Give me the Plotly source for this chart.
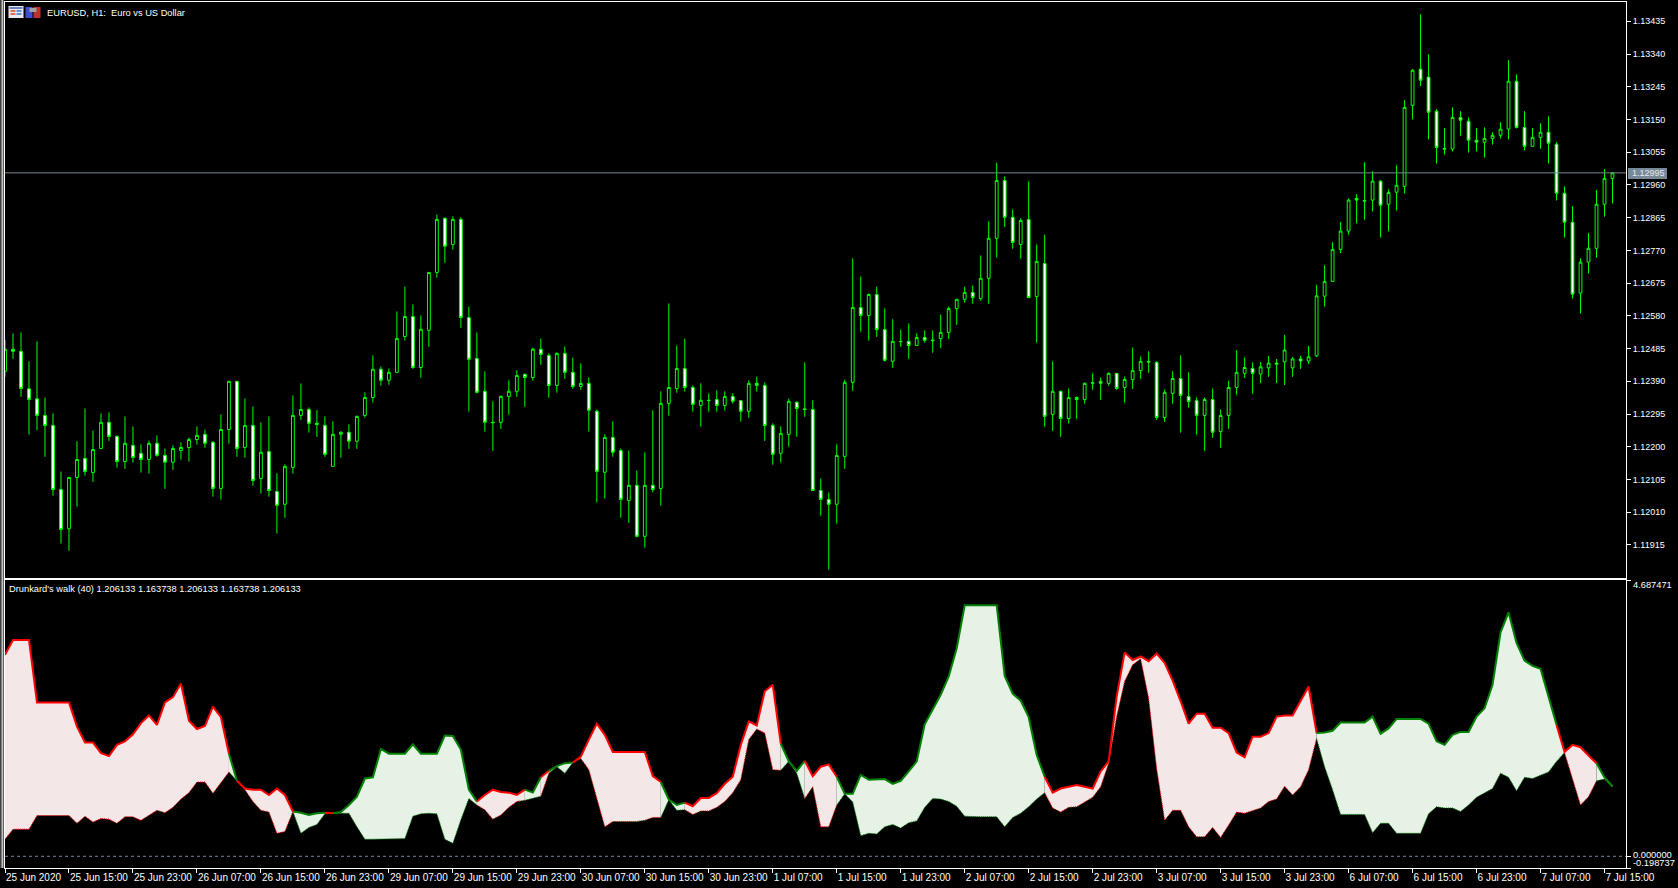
"""EURUSD H1 candles with the Drunkard's walk (40) indicator below, MT5 look."""

import plotly.graph_objects as go

FIG_W = 1678
FIG_H = 888
LEFT = 4.5
RIGHT = 1626
TOP = 2
MAIN_BOTTOM = 578
SUB_TOP = 580
SUB_BOTTOM = 868
BAR_PX = 8

FONT = 'Liberation Sans, sans-serif'
CANDLE = '#00ff00'
SLATE = '#778899'
RED = '#ff0000'
GREEN = '#008000'
RED_FILL = '#f3e7e7'
GREEN_FILL = '#e6f2e6'

opens = [
    1.12419, 1.12483, 1.12477, 1.12368, 1.12339, 1.12291, 1.12262, 1.12076, 1.11962, 1.12111,
    1.12166, 1.12125, 1.12195, 1.12271, 1.12230, 1.12157, 1.12204, 1.12181, 1.12163, 1.12210,
    1.12175, 1.12155, 1.12189, 1.12198, 1.12221, 1.12236, 1.12213, 1.12079, 1.12250, 1.12390,
    1.12198, 1.12262, 1.12108, 1.12186, 1.12070, 1.12033, 1.12140, 1.12291, 1.12308, 1.12268,
    1.12262, 1.12143, 1.12236, 1.12242, 1.12216, 1.12291, 1.12343, 1.12425, 1.12393, 1.12416,
    1.12520, 1.12578, 1.12430, 1.12538, 1.12706, 1.12863, 1.12787, 1.12860, 1.12575, 1.12456,
    1.12361, 1.12271, 1.12271, 1.12346, 1.12361, 1.12410, 1.12401, 1.12483, 1.12465, 1.12378,
    1.12471, 1.12416, 1.12375, 1.12384, 1.12303, 1.12126, 1.12227, 1.12189, 1.12044, 1.12088,
    1.11940, 1.12088, 1.12079, 1.12326, 1.12369, 1.12427, 1.12372, 1.12320, 1.12335, 1.12337,
    1.12320, 1.12346, 1.12334, 1.12303, 1.12384, 1.12378, 1.12262, 1.12181, 1.12236, 1.12329,
    1.12310, 1.12308, 1.12073, 1.12047, 1.12033, 1.12172, 1.12387, 1.12604, 1.12581, 1.12642,
    1.12540, 1.12448, 1.12506, 1.12506, 1.12494, 1.12517, 1.12510, 1.12514, 1.12532, 1.12601,
    1.12628, 1.12648, 1.12630, 1.12689, 1.12805, 1.12973, 1.12866, 1.12787, 1.12860, 1.12636,
    1.12732, 1.12294, 1.12361, 1.12282, 1.12343, 1.12337, 1.12384, 1.12390, 1.12384, 1.12413,
    1.12372, 1.12395, 1.12421, 1.12448, 1.12445, 1.12285, 1.12355, 1.12398, 1.12346, 1.12334,
    1.12291, 1.12337, 1.12244, 1.12291, 1.12372, 1.12413, 1.12427, 1.12411, 1.12429, 1.12443,
    1.12446, 1.12429, 1.12455, 1.12449, 1.12464, 1.12637, 1.12680, 1.12773, 1.12826, 1.12921,
    1.12915, 1.12916, 1.12971, 1.12904, 1.12939, 1.12956, 1.13191, 1.13296, 1.13273, 1.13174,
    1.13066, 1.13064, 1.13156, 1.13145, 1.13090, 1.13084, 1.13095, 1.13104, 1.13122, 1.13261,
    1.13127, 1.13072, 1.13098, 1.13113, 1.13078, 1.12936, 1.12852, 1.12646, 1.12736, 1.12776,
    1.12904, 1.12979,
]
highs = [
    1.12510, 1.12529, 1.12532, 1.12448, 1.12506, 1.12343, 1.12297, 1.12128, 1.12111, 1.12216,
    1.12311, 1.12247, 1.12297, 1.12300, 1.12233, 1.12288, 1.12259, 1.12207, 1.12218, 1.12233,
    1.12195, 1.12204, 1.12213, 1.12227, 1.12259, 1.12250, 1.12216, 1.12294, 1.12390, 1.12390,
    1.12340, 1.12317, 1.12271, 1.12288, 1.12123, 1.12149, 1.12349, 1.12384, 1.12314, 1.12306,
    1.12288, 1.12274, 1.12245, 1.12265, 1.12291, 1.12358, 1.12465, 1.12433, 1.12427, 1.12593,
    1.12665, 1.12613, 1.12581, 1.12706, 1.12874, 1.12866, 1.12869, 1.12866, 1.12607, 1.12532,
    1.12419, 1.12332, 1.12349, 1.12393, 1.12422, 1.12413, 1.12488, 1.12514, 1.12471, 1.12474,
    1.12491, 1.12459, 1.12442, 1.12401, 1.12308, 1.12236, 1.12274, 1.12195, 1.12189, 1.12131,
    1.12184, 1.12306, 1.12361, 1.12616, 1.12494, 1.12514, 1.12378, 1.12384, 1.12355, 1.12364,
    1.12361, 1.12355, 1.12335, 1.12393, 1.12404, 1.12387, 1.12268, 1.12259, 1.12340, 1.12332,
    1.12445, 1.12335, 1.12108, 1.12067, 1.12207, 1.12395, 1.12747, 1.12694, 1.12645, 1.12665,
    1.12601, 1.12570, 1.12540, 1.12558, 1.12529, 1.12538, 1.12538, 1.12584, 1.12607, 1.12628,
    1.12665, 1.12668, 1.12755, 1.12854, 1.13025, 1.12985, 1.12889, 1.12863, 1.12970, 1.12787,
    1.12816, 1.12448, 1.12363, 1.12369, 1.12346, 1.12387, 1.12413, 1.12401, 1.12416, 1.12413,
    1.12404, 1.12488, 1.12462, 1.12477, 1.12448, 1.12366, 1.12419, 1.12465, 1.12416, 1.12343,
    1.12343, 1.12369, 1.12308, 1.12392, 1.12480, 1.12459, 1.12445, 1.12446, 1.12464, 1.12455,
    1.12525, 1.12461, 1.12464, 1.12493, 1.12670, 1.12727, 1.12794, 1.12852, 1.12921, 1.12933,
    1.13026, 1.13000, 1.12974, 1.12947, 1.13017, 1.13206, 1.13296, 1.13455, 1.13339, 1.13180,
    1.13125, 1.13185, 1.13174, 1.13156, 1.13125, 1.13127, 1.13113, 1.13142, 1.13322, 1.13281,
    1.13174, 1.13125, 1.13139, 1.13159, 1.13084, 1.12956, 1.12898, 1.12747, 1.12820, 1.12945,
    1.13006, 1.12997,
]
lows = [
    1.12403, 1.12455, 1.12345, 1.12235, 1.12248, 1.12171, 1.12058, 1.11919, 1.11898, 1.12026,
    1.12116, 1.12098, 1.12195, 1.12217, 1.12139, 1.12136, 1.12154, 1.12125, 1.12122, 1.12171,
    1.12078, 1.12133, 1.12162, 1.12157, 1.12206, 1.12197, 1.12055, 1.12046, 1.12209, 1.12171,
    1.12168, 1.12087, 1.12064, 1.12055, 1.11948, 1.11994, 1.12122, 1.12278, 1.12241, 1.12229,
    1.12171, 1.12143, 1.12168, 1.12194, 1.12194, 1.12284, 1.12328, 1.12377, 1.12380, 1.12416,
    1.12508, 1.12426, 1.12400, 1.12490, 1.12691, 1.12734, 1.12772, 1.12545, 1.12302, 1.12355,
    1.12244, 1.12188, 1.12252, 1.12293, 1.12345, 1.12316, 1.12392, 1.12438, 1.12342, 1.12357,
    1.12397, 1.12368, 1.12365, 1.12244, 1.12038, 1.12049, 1.12171, 1.11994, 1.11979, 1.11937,
    1.11907, 1.12067, 1.12029, 1.12290, 1.12357, 1.12360, 1.12302, 1.12258, 1.12302, 1.12302,
    1.12305, 1.12325, 1.12273, 1.12284, 1.12360, 1.12217, 1.12148, 1.12154, 1.12200, 1.12229,
    1.12287, 1.12073, 1.12000, 1.11843, 1.11977, 1.12136, 1.12362, 1.12534, 1.12508, 1.12519,
    1.12447, 1.12429, 1.12490, 1.12455, 1.12494, 1.12502, 1.12473, 1.12487, 1.12513, 1.12554,
    1.12618, 1.12615, 1.12624, 1.12615, 1.12749, 1.12838, 1.12775, 1.12746, 1.12633, 1.12502,
    1.12258, 1.12246, 1.12229, 1.12267, 1.12281, 1.12325, 1.12365, 1.12336, 1.12377, 1.12365,
    1.12328, 1.12368, 1.12397, 1.12415, 1.12278, 1.12272, 1.12325, 1.12241, 1.12313, 1.12235,
    1.12188, 1.12226, 1.12197, 1.12252, 1.12351, 1.12400, 1.12354, 1.12385, 1.12403, 1.12385,
    1.12379, 1.12403, 1.12426, 1.12440, 1.12461, 1.12607, 1.12680, 1.12762, 1.12816, 1.12848,
    1.12859, 1.12883, 1.12807, 1.12825, 1.12886, 1.12935, 1.13150, 1.13247, 1.13092, 1.13022,
    1.13048, 1.13057, 1.13103, 1.13054, 1.13057, 1.13039, 1.13077, 1.13095, 1.13092, 1.13124,
    1.13060, 1.13072, 1.13065, 1.13022, 1.12915, 1.12807, 1.12630, 1.12587, 1.12703, 1.12749,
    1.12868, 1.12906,
]
closes = [
    1.12483, 1.12477, 1.12369, 1.12337, 1.12291, 1.12262, 1.12076, 1.11960, 1.12111, 1.12163,
    1.12128, 1.12192, 1.12271, 1.12230, 1.12157, 1.12210, 1.12169, 1.12163, 1.12210, 1.12175,
    1.12155, 1.12195, 1.12198, 1.12221, 1.12233, 1.12210, 1.12079, 1.12250, 1.12390, 1.12195,
    1.12262, 1.12102, 1.12184, 1.12073, 1.12030, 1.12143, 1.12291, 1.12308, 1.12268, 1.12265,
    1.12178, 1.12236, 1.12242, 1.12216, 1.12288, 1.12343, 1.12425, 1.12393, 1.12416, 1.12514,
    1.12578, 1.12430, 1.12541, 1.12706, 1.12860, 1.12782, 1.12860, 1.12575, 1.12454, 1.12358,
    1.12271, 1.12270, 1.12346, 1.12361, 1.12407, 1.12401, 1.12483, 1.12468, 1.12378, 1.12471,
    1.12416, 1.12375, 1.12384, 1.12306, 1.12128, 1.12227, 1.12184, 1.12047, 1.12088, 1.11940,
    1.12088, 1.12076, 1.12326, 1.12372, 1.12427, 1.12372, 1.12323, 1.12335, 1.12334, 1.12320,
    1.12346, 1.12332, 1.12303, 1.12384, 1.12378, 1.12262, 1.12178, 1.12239, 1.12332, 1.12311,
    1.12308, 1.12073, 1.12047, 1.12033, 1.12175, 1.12387, 1.12604, 1.12581, 1.12642, 1.12540,
    1.12451, 1.12506, 1.12505, 1.12494, 1.12517, 1.12509, 1.12508, 1.12532, 1.12601, 1.12628,
    1.12648, 1.12633, 1.12689, 1.12805, 1.12973, 1.12866, 1.12793, 1.12857, 1.12633, 1.12738,
    1.12288, 1.12361, 1.12282, 1.12343, 1.12337, 1.12384, 1.12386, 1.12384, 1.12413, 1.12369,
    1.12395, 1.12421, 1.12448, 1.12446, 1.12285, 1.12358, 1.12398, 1.12349, 1.12331, 1.12291,
    1.12337, 1.12242, 1.12291, 1.12372, 1.12416, 1.12430, 1.12413, 1.12432, 1.12443, 1.12440,
    1.12481, 1.12455, 1.12449, 1.12461, 1.12638, 1.12680, 1.12773, 1.12826, 1.12916, 1.12916,
    1.12913, 1.12971, 1.12901, 1.12938, 1.12959, 1.13185, 1.13293, 1.13264, 1.13171, 1.13069,
    1.13064, 1.13156, 1.13148, 1.13090, 1.13084, 1.13095, 1.13104, 1.13122, 1.13261, 1.13127,
    1.13072, 1.13098, 1.13113, 1.13081, 1.12936, 1.12852, 1.12643, 1.12736, 1.12776, 1.12904,
    1.12979, 1.12995,
]

walk_upper = [
    3.42, 3.67, 3.67, 3.67, 2.61, 2.61, 2.61, 2.61, 2.61, 2.20,
    1.93, 1.93, 1.75, 1.70, 1.89, 1.95, 2.07, 2.26, 2.39, 2.23,
    2.61, 2.70, 2.93, 2.30, 2.16, 2.21, 2.54, 2.36, 1.74, 1.28,
    1.15, 1.13, 1.13, 1.04, 1.15, 1.04, 0.76, 0.74, 0.70, 0.73,
    0.74, 0.73, 0.75, 0.87, 1.01, 1.32, 1.34, 1.82, 1.74, 1.74,
    1.74, 1.90, 1.74, 1.74, 1.74, 2.05, 2.04, 1.81, 1.13, 0.93,
    1.04, 1.13, 1.09, 1.08, 1.04, 1.13, 1.08, 1.34, 1.45, 1.53,
    1.58, 1.59, 1.69, 1.98, 2.25, 2.06, 1.77, 1.77, 1.77, 1.77,
    1.77, 1.36, 1.26, 0.96, 0.87, 0.91, 0.85, 0.99, 0.99, 1.07,
    1.23, 1.35, 1.89, 2.29, 2.22, 2.80, 2.91, 1.91, 1.61, 1.45,
    1.62, 1.36, 1.52, 1.56, 1.35, 1.06, 1.06, 1.38, 1.30, 1.31,
    1.31, 1.23, 1.28, 1.44, 1.61, 2.24, 2.48, 2.74, 3.05, 3.53,
    4.26, 4.26, 4.26, 4.26, 4.26, 3.06, 2.76, 2.64, 2.36, 1.72,
    1.35, 1.08, 1.15, 1.18, 1.21, 1.18, 1.15, 1.44, 1.61, 2.71,
    3.46, 3.33, 3.39, 3.31, 3.44, 3.28, 2.98, 2.63, 2.25, 2.42,
    2.42, 2.18, 2.18, 2.09, 1.76, 1.68, 2.03, 2.03, 2.09, 2.37,
    2.39, 2.39, 2.64, 2.88, 2.09, 2.10, 2.13, 2.27, 2.27, 2.27,
    2.27, 2.37, 2.08, 2.17, 2.33, 2.33, 2.33, 2.33, 2.25, 1.95,
    1.89, 2.06, 2.11, 2.11, 2.37, 2.51, 2.91, 3.80, 4.14, 3.62,
    3.32, 3.23, 3.18, 2.71, 2.23, 1.77, 1.89, 1.85, 1.71, 1.58,
    1.34, 1.19,
]
walk_lower = [
    0.29, 0.46, 0.46, 0.46, 0.69, 0.69, 0.69, 0.69, 0.69, 0.56,
    0.68, 0.58, 0.64, 0.63, 0.56, 0.67, 0.67, 0.61, 0.70, 0.78,
    0.74, 0.83, 0.97, 1.08, 1.26, 1.26, 1.07, 1.24, 1.43, 1.28,
    1.13, 0.93, 0.78, 0.75, 0.39, 0.42, 0.76, 0.39, 0.49, 0.54,
    0.72, 0.73, 0.73, 0.73, 0.50, 0.29, 0.29, 0.29, 0.30, 0.30,
    0.30, 0.68, 0.72, 0.73, 0.72, 0.29, 0.22, 0.62, 0.98, 0.87,
    0.79, 0.63, 0.70, 0.83, 0.93, 0.95, 0.98, 1.02, 1.41, 1.52,
    1.41, 1.59, 1.66, 1.47, 0.96, 0.50, 0.59, 0.59, 0.59, 0.59,
    0.61, 0.66, 0.66, 0.96, 0.78, 0.79, 0.71, 0.77, 0.77, 0.83,
    0.93, 1.08, 1.30, 1.98, 2.16, 2.09, 1.47, 1.46, 1.61, 1.41,
    0.98, 1.18, 0.50, 0.50, 0.87, 1.06, 0.92, 0.35, 0.39, 0.38,
    0.50, 0.54, 0.48, 0.57, 0.60, 0.83, 0.98, 0.97, 0.93, 0.85,
    0.68, 0.67, 0.67, 0.67, 0.67, 0.50, 0.66, 0.73, 0.84, 0.97,
    1.08, 0.82, 0.75, 0.83, 0.84, 0.92, 1.00, 1.18, 1.58, 2.37,
    2.97, 3.25, 3.35, 2.68, 1.49, 0.61, 0.78, 0.78, 0.50, 0.33,
    0.33, 0.49, 0.32, 0.53, 0.75, 0.73, 0.78, 0.82, 0.93, 0.97,
    1.19, 1.04, 1.18, 1.47, 2.00, 1.52, 1.13, 0.71, 0.71, 0.71,
    0.71, 0.40, 0.56, 0.56, 0.39, 0.39, 0.39, 0.39, 0.72, 0.84,
    0.82, 0.82, 0.76, 0.87, 1.00, 1.08, 1.15, 1.41, 1.34, 1.11,
    1.34, 1.32, 1.38, 1.43, 1.61, 1.76, 1.30, 0.87, 1.01, 1.28,
    1.31, 1.17,
]
# colour of each stretch between bars, as (colour, number of stretches)
line_runs = [
    ('r', 28), ('g', 1), ('r', 7), ('g', 4), ('r', 1), ('g', 18), ('r', 6), ('g', 2), ('r', 1), ('g', 3),
    ('r', 11), ('g', 3), ('r', 12), ('g', 3), ('r', 4), ('g', 26), ('r', 34), ('g', 30), ('r', 5), ('g', 2),
]
fill_runs = [
    ('r', 28), ('g', 1), ('r', 7), ('g', 4), ('r', 1), ('g', 18), ('r', 6), ('g', 2), ('r', 1), ('g', 3),
    ('r', 11), ('g', 3), ('r', 12), ('g', 3), ('r', 4), ('g', 26), ('r', 34), ('g', 31), ('r', 4), ('g', 2),
]

price_ticks = [
    1.13435, 1.13340, 1.13245, 1.13150, 1.13055, 1.12960, 1.12865, 1.12770, 1.12675,
    1.12580, 1.12485, 1.12390, 1.12295, 1.12200, 1.12105, 1.12010, 1.11915,
]
last_price = 1.12995
price_range = [1.11819, 1.13491]
walk_range = [-0.198737, 4.687471]
time_tick_bars = list(range(0, 201, 8))
time_tick_labels = [
    '25 Jun 2020', '25 Jun 15:00', '25 Jun 23:00', '26 Jun 07:00', '26 Jun 15:00', '26 Jun 23:00',
    '29 Jun 07:00', '29 Jun 15:00', '29 Jun 23:00', '30 Jun 07:00', '30 Jun 15:00', '30 Jun 23:00',
    '1 Jul 07:00', '1 Jul 15:00', '1 Jul 23:00', '2 Jul 07:00', '2 Jul 15:00', '2 Jul 23:00',
    '3 Jul 07:00', '3 Jul 15:00', '3 Jul 23:00', '6 Jul 07:00', '6 Jul 15:00', '6 Jul 23:00',
    '7 Jul 07:00', '7 Jul 15:00',
]
title_text = 'EURUSD, H1:\u00a0\u00a0Euro vs US Dollar'
walk_text = "Drunkard's walk (40) 1.206133 1.163738 1.206133 1.163738 1.206133"


def px_x(x):
    return (x - LEFT) / (RIGHT - LEFT)


def px_y(y):
    return (SUB_BOTTOM - y) / (SUB_BOTTOM - TOP)


def pixel_rect(x0, y0, x1, y1, color):
    return dict(
        type='rect', xref='paper', yref='paper', layer='above',
        x0=px_x(x0), x1=px_x(x1), y0=px_y(y0), y1=px_y(y1),
        fillcolor=color, line=dict(width=0),
    )


def split_runs(runs):
    """Yield (state, bar numbers) for each run, neighbours share their end bar."""
    start = 0
    for state, count in runs:
        yield state, list(range(start, start + count + 1))
        start += count


fig = go.Figure()

fig.add_trace(go.Candlestick(
    x=list(range(len(opens))),
    open=opens, high=highs, low=lows, close=closes,
    increasing=dict(line=dict(color=CANDLE, width=1), fillcolor='#000000'),
    decreasing=dict(line=dict(color=CANDLE, width=1), fillcolor='#ffffff'),
    whiskerwidth=0,
    xaxis='x', yaxis='y',
    hoverinfo='skip',
))

for state, bars in split_runs(fill_runs):
    fig.add_trace(go.Scatter(
        x=bars, y=[walk_lower[i] for i in bars], mode='lines', xaxis='x2', yaxis='y2',
        line=dict(color=GREEN if state == 'g' else RED, width=1, dash='1px,1px'),
        hoverinfo='skip',
    ))
    fig.add_trace(go.Scatter(
        x=bars, y=[walk_upper[i] for i in bars], mode='lines', xaxis='x2', yaxis='y2',
        line=dict(width=0),
        fill='tonexty', fillcolor=GREEN_FILL if state == 'g' else RED_FILL,
        hoverinfo='skip',
    ))

for state, bars in split_runs(line_runs):
    fig.add_trace(go.Scatter(
        x=bars, y=[walk_upper[i] for i in bars], mode='lines', xaxis='x2', yaxis='y2',
        line=dict(color=GREEN if state == 'g' else RED, width=2),
        hoverinfo='skip',
    ))

x_range = [0, (RIGHT - LEFT) / BAR_PX]
frame = dict(showline=True, linecolor='#ffffff', linewidth=1, mirror=True, showgrid=False, zeroline=False)
plot_h = SUB_BOTTOM - TOP
y_tick_font = dict(family=FONT, size=9, color='#ffffff')

fig.update_layout(
    width=FIG_W,
    height=FIG_H,
    autosize=False,
    showlegend=False,
    paper_bgcolor='#000000',
    plot_bgcolor='#000000',
    boxgap=0.5,
    margin=dict(l=LEFT, r=FIG_W - RIGHT, t=TOP, b=FIG_H - SUB_BOTTOM, pad=0),
    font=dict(family=FONT, size=9.3, color='#ffffff'),
    xaxis=dict(
        **frame, range=x_range, anchor='y', showticklabels=False, ticks='',
        rangeslider=dict(visible=False),
    ),
    xaxis2=dict(
        **frame, range=x_range, anchor='y2',
        tickmode='array', tickvals=time_tick_bars, ticktext=time_tick_labels,
        ticks='outside', ticklen=4, tickcolor='#ffffff', tickwidth=1,
        ticklabelposition='outside right', tickangle=0,
        tickfont=dict(family=FONT, size=10, color='#ffffff'),
    ),
    yaxis=dict(
        **frame, range=price_range, side='right', anchor='x',
        domain=[(SUB_BOTTOM - MAIN_BOTTOM) / plot_h, 1],
        tickmode='array', tickvals=price_ticks, ticktext=[f'{v:.5f}' for v in price_ticks],
        ticks='outside', ticklen=4, tickcolor='#ffffff', tickwidth=1,
        tickfont=y_tick_font,
    ),
    yaxis2=dict(
        **frame, range=walk_range, side='right', anchor='x2',
        domain=[0, (SUB_BOTTOM - SUB_TOP) / plot_h],
        tickmode='array', tickvals=[walk_range[1], 0, walk_range[0]], ticktext=['', '', ''],
        ticks='outside', ticklen=4, tickcolor='#ffffff', tickwidth=1,
    ),
    shapes=[
        dict(type='line', xref='paper', x0=0, x1=1, yref='y', y0=last_price, y1=last_price,
             line=dict(color=SLATE, width=1)),
        dict(type='line', xref='paper', x0=0, x1=1, yref='y2', y0=0, y1=0,
             line=dict(color=SLATE, width=1, dash='3px,3px')),
        # window edge
        pixel_rect(0, 0, 1, SUB_BOTTOM, '#808080'),
        pixel_rect(1, 0, 3, SUB_BOTTOM, '#c0c0c0'),
        # chart window icons
        pixel_rect(8, 6, 23, 18, '#e8e8f0'),
        pixel_rect(9, 7, 22, 9, '#6a7fc0'),
        pixel_rect(10, 10, 15, 12, '#e07050'),
        pixel_rect(10, 13, 15, 15, '#e07050'),
        pixel_rect(16, 10, 21, 12, '#6090d8'),
        pixel_rect(16, 13, 21, 15, '#6090d8'),
        pixel_rect(25, 7, 32, 18, '#3a50d0'),
        pixel_rect(33, 7, 40, 18, '#c03030'),
        pixel_rect(29, 8, 36, 12, '#a0a0a0'),
        # last price box on the axis
        pixel_rect(1628, 168, 1667, 179, SLATE),
    ],
    annotations=[
        dict(text=title_text, xref='paper', yref='paper', x=px_x(45), y=px_y(12.5),
             xanchor='left', yanchor='middle', showarrow=False),
        dict(text=walk_text, xref='paper', yref='paper', x=px_x(7), y=px_y(589),
             xanchor='left', yanchor='middle', showarrow=False),
        dict(text=f'{last_price:.5f}', xref='paper', yref='y', x=1, y=last_price,
             xanchor='left', yanchor='middle', xshift=4, showarrow=False,
             font=dict(size=9, color='#e8e8e8')),
        dict(text=f'{walk_range[1]:.6f}', xref='paper', yref='y2', x=1, y=walk_range[1],
             xanchor='left', yanchor='middle', xshift=5, yshift=-5, showarrow=False),
        dict(text='0.000000', xref='paper', yref='y2', x=1, y=0,
             xanchor='left', yanchor='middle', xshift=5, yshift=1, showarrow=False),
        dict(text=f'{walk_range[0]:.6f}', xref='paper', yref='y2', x=1, y=walk_range[0],
             xanchor='left', yanchor='middle', xshift=5, yshift=5, showarrow=False),
    ],
)

fig.write_html(
    "out.html",
    config={'displayModeBar': False},
    post_script="document.body.style.margin='0';document.body.style.overflow='hidden';",
)
